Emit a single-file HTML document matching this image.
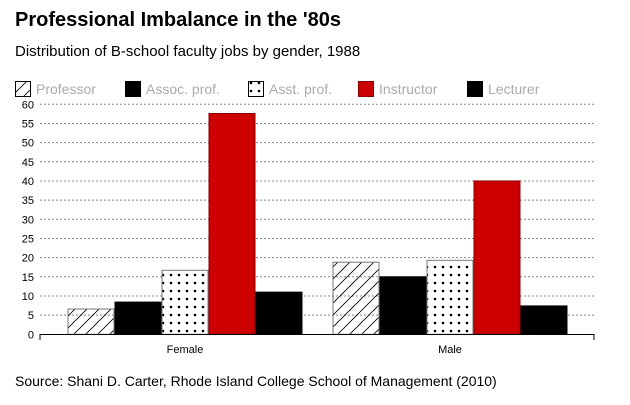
<!DOCTYPE html>
<html><head><meta charset="utf-8"><style>
body{margin:0;background:#fff;font-family:"Liberation Sans",sans-serif}
svg text{font-family:"Liberation Sans",sans-serif}
</style></head><body>
<svg id="chart" width="630" height="400" xmlns="http://www.w3.org/2000/svg">
<defs>
<pattern id="hatch" patternUnits="userSpaceOnUse" width="12" height="12"><path d="M0,12 L12,0 M-3,3 L3,-3 M9,15 L15,9" stroke="#000" stroke-width="0.8"/></pattern>
<pattern id="dots" patternUnits="userSpaceOnUse" width="8" height="8"><rect width="8" height="8" fill="#fff"/><circle cx="3" cy="3" r="1.3" fill="#000"/></pattern>
</defs>
<text x="15" y="26" font-size="20" font-weight="bold">Professional Imbalance in the '80s</text>
<text x="15" y="56" font-size="15">Distribution of B-school faculty jobs by gender, 1988</text>
<text x="15" y="386" font-size="14">Source: Shani D. Carter, Rhode Island College School of Management (2010)</text>
<g id="grid"></g><g id="bars"></g><g id="axes"></g><g id="legend"></g>
</svg>
<script>
const categories=["Female","Male"];
const seriesNames=["Professor","Assoc. prof.","Asst. prof.","Instructor","Lecturer"];
const professor=[6.6,18.8];
const assocProf=[8.4,15];
const asstProf=[16.7,19.3];
const instructor=[57.6,40];
const lecturer=[11,7.4];
const yTicks=[0,5,10,15,20,25,30,35,40,45,50,55,60];
const series=[professor,assocProf,asstProf,instructor,lecturer];
const fills=["url(#hatch)","#000","url(#dots)","#cc0000","#000"];
const strokes=["#777","#000","#777","#800","#000"];
const NS="http://www.w3.org/2000/svg";
const y0=334.3,yTop=104.3,yMax=60;
const y=v=>y0-(v/yMax)*(y0-yTop);
const groupCenters=[185,450];
const barW=47;
const x=(ci,si)=>groupCenters[ci]-2.5*barW+si*barW;
function mk(t,a,p){const e=document.createElementNS(NS,t);for(const k in a)e.setAttribute(k,a[k]);p.appendChild(e);return e;}
const grid=document.getElementById('grid'),bars=document.getElementById('bars'),axes=document.getElementById('axes'),legend=document.getElementById('legend');
yTicks.forEach(t=>{
  if(t>0){const l=mk('line',{x1:40,x2:594,y1:y(t),y2:y(t),stroke:'#888','stroke-dasharray':'2,2','stroke-width':1},grid);
  
  }
  const tx=mk('text',{x:34,y:y(t)+4,'font-size':11,'text-anchor':'end'},axes);tx.textContent=t;
  
  
});
series.forEach((s,si)=>s.forEach((v,ci)=>{
  const r=mk('rect',{x:x(ci,si)+0.5,y:y(v),width:barW-1,height:y0-y(v),fill:fills[si],stroke:strokes[si],'stroke-width':1},bars);
  
  
}));
const ax=mk('path',{d:'M40,340 L40,334.5 L594,334.5 L594,340',fill:'none',stroke:'#000','stroke-width':1},axes);


categories.forEach((c,ci)=>{
  const t=mk('text',{x:groupCenters[ci],y:353,'font-size':11,'text-anchor':'middle'},axes);t.textContent=c;
  
  
});
const legX=[15,125,248,358,467];
seriesNames.forEach((n,i)=>{
  const r=mk('rect',{x:legX[i]+0.5,y:81.5,width:15,height:15,fill:fills[i],stroke:strokes[i]=='#777'?'#000':strokes[i]},legend);
  
  
  const t=mk('text',{x:legX[i]+21,y:94,'font-size':14,fill:'#aaa'},legend);t.textContent=n;
  
  
});
</script>
</body></html>
